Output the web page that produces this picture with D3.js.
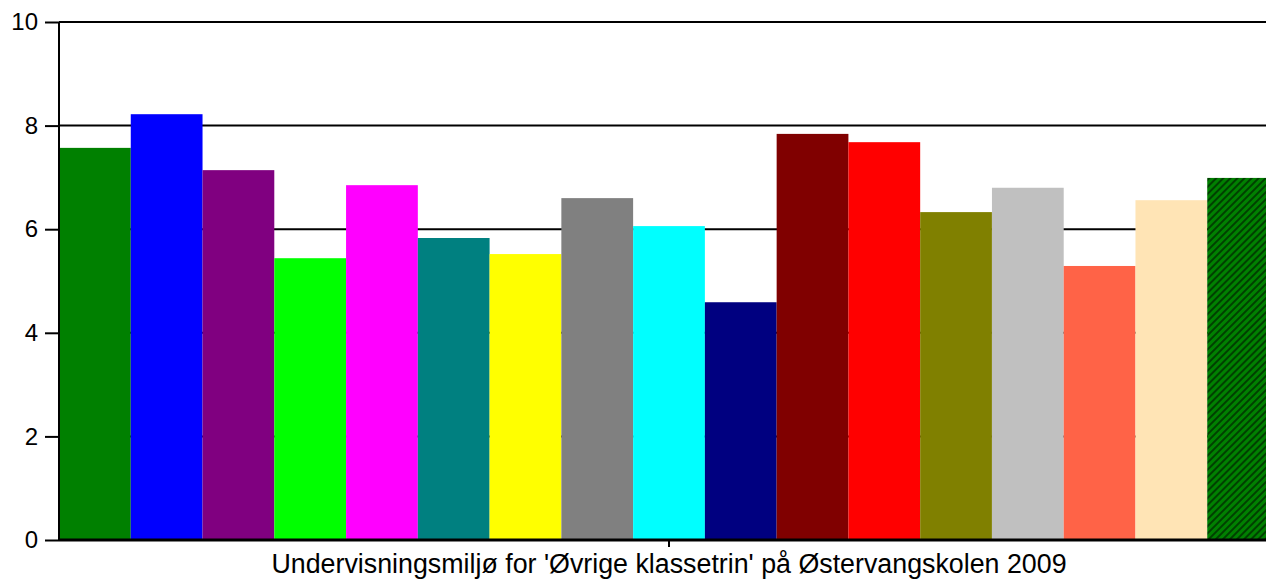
<!DOCTYPE html>
<html>
<head>
<meta charset="utf-8">
<script src="https://cdn.jsdelivr.net/npm/d3@7"></script>
<style>
  html, body { margin: 0; padding: 0; background: #fff; overflow: hidden; }
  svg { display: block; }
  text { font-family: Arial, "Liberation Sans", sans-serif; fill: #000; }
</style>
</head>
<body>
<script>
const categories = ["Undervisningsmiljø for 'Øvrige klassetrin' på Østervangskolen 2009"];
const seriesNames = ["S1","S2","S3","S4","S5","S6","S7","S8","S9","S10","S11","S12","S13","S14","S15","S16","S17"];
const seriesValues = [7.57, 8.22, 7.14, 5.44, 6.85, 5.83, 5.52, 6.60, 6.06, 4.59, 7.84, 7.68, 6.33, 6.80, 5.29, 6.56, 6.99];
const seriesColors = ["#008000","#0000FF","#800080","#00FF00","#FF00FF","#008080","#FFFF00","#808080","#00FFFF","#000080","#800000","#FF0000","#808000","#C0C0C0","#FF6347","#FFE4B5","url(#hatch)"];
const yTicks = [0, 2, 4, 6, 8, 10];

const W = 1266, H = 580;
const margin = {left: 59, top: 22, right: -13, bottom: 40};
const svg = d3.select("body").append("svg").attr("width", W).attr("height", H);

const defs = svg.append("defs");
const pat = defs.append("pattern").attr("id", "hatch").attr("patternUnits", "userSpaceOnUse")
  .attr("width", 5).attr("height", 5).attr("patternTransform", "rotate(45)");
pat.append("rect").attr("width", 5).attr("height", 5).attr("fill", "#008000");
pat.append("rect").attr("width", 2).attr("height", 5).attr("fill", "#004000");

const x0 = d3.scaleBand().domain(categories).range([margin.left, W - margin.right]).paddingInner(0).paddingOuter(0);
const x1 = d3.scaleBand().domain(seriesNames).range([0, x0.bandwidth()]).padding(0);
const y = d3.scaleLinear().domain([0, 10]).range([H - margin.bottom, margin.top]);

// gridlines
svg.append("g").selectAll("line").data(yTicks.filter(d => d > 0)).join("line")
  .attr("x1", margin.left).attr("x2", W)
  .attr("y1", d => y(d)).attr("y2", d => y(d))
  .attr("stroke", "#000").attr("stroke-width", 2);

// bars
const g = svg.append("g");
categories.forEach(cat => {
  g.selectAll("rect.bar").data(seriesValues).join("rect")
    .attr("class", "bar")
    .attr("x", (d, i) => x0(cat) + x1(seriesNames[i]))
    .attr("width", x1.bandwidth())
    .attr("y", d => y(d))
    .attr("height", d => y(0) - y(d))
    .attr("fill", (d, i) => seriesColors[i]);
});

// y axis
const yAxis = svg.append("g").attr("transform", `translate(${margin.left},0)`)
  .call(d3.axisLeft(y).tickValues(yTicks).tickSize(14).tickPadding(7).tickFormat(d3.format("d")));
yAxis.attr("font-size", 24).attr("font-family", "Arial, 'Liberation Sans', sans-serif");
yAxis.selectAll("line").attr("stroke", "#000").attr("stroke-width", 2);
yAxis.select(".domain").attr("stroke", "#000").attr("stroke-width", 2).attr("d", `M0,${y(10)}V${y(0)}`);
yAxis.selectAll("text").attr("fill", "#000");

// x axis
const xAxis = svg.append("g").attr("transform", `translate(0,${y(0)})`)
  .call(d3.axisBottom(x0).tickSize(7).tickPadding(7));
xAxis.attr("font-size", 26.8).attr("font-family", "Arial, 'Liberation Sans', sans-serif");
xAxis.select(".domain").attr("stroke", "#000").attr("stroke-width", 3).attr("d", `M${margin.left},0H${W}`);
xAxis.selectAll("line").attr("stroke", "#000").attr("stroke-width", 2);
xAxis.selectAll("text").attr("fill", "#000");
</script>
</body>
</html>
